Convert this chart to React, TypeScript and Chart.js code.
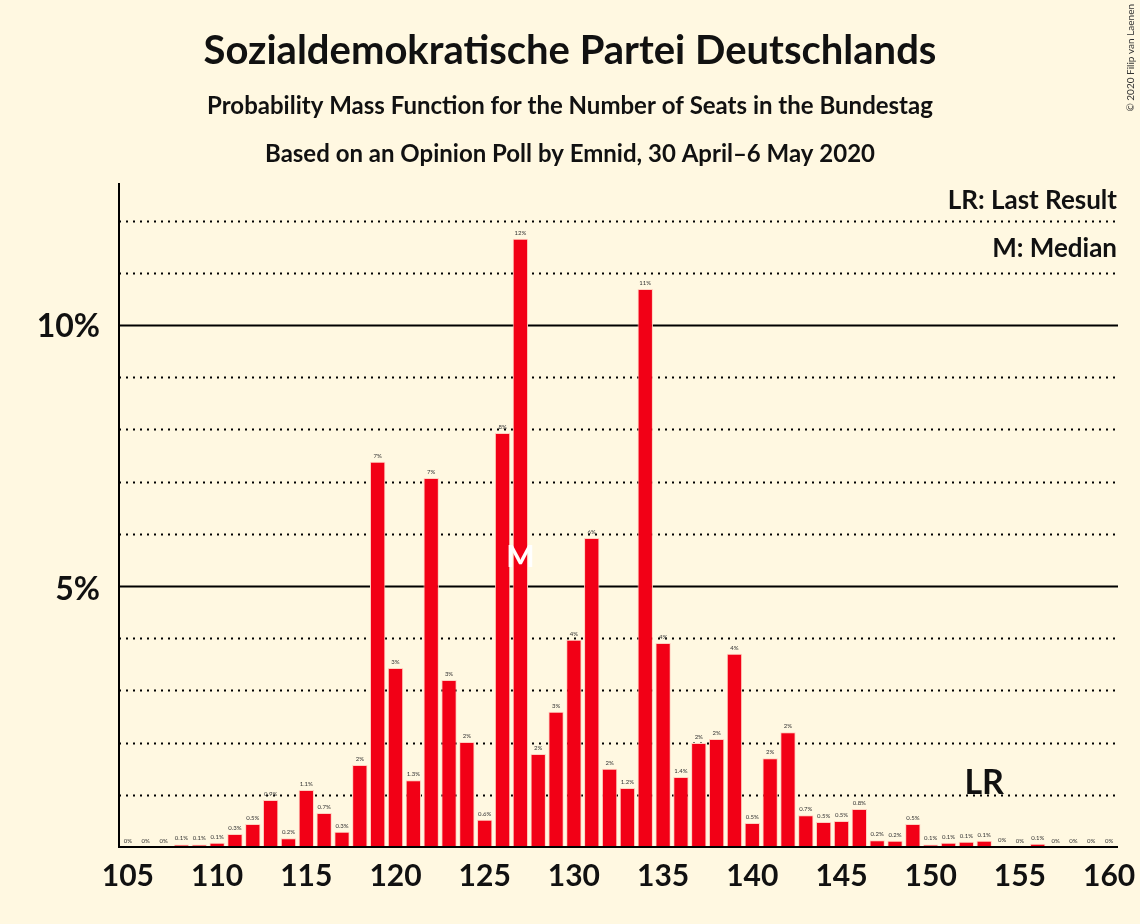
import React, { useEffect, useRef } from "react";
import { Chart, registerables } from "chart.js";
Chart.register(...registerables);

const seats = Array.from({ length: 56 }, (_, i) => 105 + i);
const probs = [
  0, 0, 0, 0.05, 0.05, 0.08, 0.25, 0.44, 0.9, 0.17, 1.09, 0.65, 0.29, 1.57, 7.38, 3.43,
  1.28, 7.07, 3.2, 2.01, 0.52, 7.93, 11.65, 1.78, 2.59, 3.97, 5.92, 1.5, 1.13, 10.69,
  3.91, 1.34, 1.99, 2.07, 3.7, 0.46, 1.7, 2.2, 0.61, 0.48, 0.5, 0.73, 0.13, 0.12, 0.44,
  0.05, 0.08, 0.1, 0.12, 0.02, 0, 0.06, 0, 0, 0, 0,
];
const valueLabels = [
  "0%", "0%", "0%", "0.1%", "0.1%", "0.1%", "0.3%", "0.5%", "0.9%", "0.2%", "1.1%", "0.7%", "0.3%", "2%", "7%", "3%",
  "1.3%", "7%", "3%", "2%", "0.6%", "8%", "12%", "2%", "3%", "4%", "6%", "2%", "1.2%", "11%",
  "4%", "1.4%", "2%", "2%", "4%", "0.5%", "2%", "2%", "0.7%", "0.5%", "0.5%", "0.8%", "0.2%", "0.2%", "0.5%",
  "0.1%", "0.1%", "0.1%", "0.1%", "0%", "0%", "0.1%", "0%", "0%", "0%", "0%",
];
const medianSeat = 127;
const lastResultSeat = 153;
const BG = "#FFF8E1";
const FONT = "Lato, 'DejaVu Sans', sans-serif";

export default function App() {
  const ref = useRef<HTMLCanvasElement>(null);
  useEffect(() => {
    document.body.style.margin = "0";
    const overlay = {
      id: "overlay",
      beforeDraw(chart: any) {
        const { ctx, chartArea: a, scales } = chart;
        ctx.save();
        ctx.fillStyle = BG;
        ctx.fillRect(0, 0, chart.width, chart.height);
        const y = scales.y;
        for (let v = 1; v <= 12; v++) {
          const py = Math.round(y.getPixelForValue(v)) + 0.5;
          ctx.beginPath();
          ctx.strokeStyle = "#000";
          if (v % 5 === 0) {
            ctx.setLineDash([]);
            ctx.lineWidth = 2;
          } else {
            ctx.setLineDash([2, 5]);
            ctx.lineWidth = 2;
          }
          ctx.moveTo(a.left, py);
          ctx.lineTo(a.right, py);
          ctx.stroke();
        }
        ctx.setLineDash([]);
        ctx.restore();
      },
      afterDraw(chart: any) {
        const { ctx, chartArea: a, scales } = chart;
        const x = scales.x, y = scales.y;
        ctx.save();
        ctx.strokeStyle = "#000";
        ctx.lineWidth = 2;
        ctx.beginPath();
        ctx.moveTo(a.left, a.top);
        ctx.lineTo(a.left, a.bottom);
        ctx.lineTo(a.right, a.bottom);
        ctx.stroke();
        ctx.fillStyle = "#111";
        ctx.textAlign = "center";
        ctx.textBaseline = "alphabetic";
        ctx.font = `bold 40px ${FONT}`;
        ctx.fillText("Sozialdemokratische Partei Deutschlands", 570, 64);
        ctx.font = `bold 24px ${FONT}`;
        ctx.fillText("Probability Mass Function for the Number of Seats in the Bundestag", 570, 114);
        ctx.fillText("Based on an Opinion Poll by Emnid, 30 April\u20136 May 2020", 570, 162);
        ctx.textAlign = "right";
        ctx.font = `bold 26px ${FONT}`;
        ctx.fillText("LR: Last Result", 1117, 209);
        ctx.fillText("M: Median", 1117, 257);
        ctx.font = `bold 32px ${FONT}`;
        ctx.fillText("10%", 100, 337);
        ctx.fillText("5%", 100, 600);
        // value labels
        ctx.textAlign = "center";
        ctx.font = `6px ${FONT}`;
        ctx.fillStyle = "#333";
        probs.forEach((p, i) => {
          ctx.fillText(valueLabels[i], x.getPixelForValue(i), y.getPixelForValue(p) - 4);
        });
        // median
        ctx.fillStyle = "#fff";
        ctx.font = `bold 30px ${FONT}`;
        const mi = seats.indexOf(medianSeat);
        ctx.fillText("M", x.getPixelForValue(mi), y.getPixelForValue(5.6) + 12);
        // LR
        ctx.fillStyle = "#111";
        ctx.font = `bold 34px ${FONT}`;
        const li = seats.indexOf(lastResultSeat);
        ctx.fillText("LR", x.getPixelForValue(li), y.getPixelForValue(1.25) + 12);
        // copyright
        ctx.save();
        ctx.translate(1134, 4);
        ctx.rotate(-Math.PI / 2);
        ctx.textAlign = "right";
        ctx.font = `10px ${FONT}`;
        ctx.fillStyle = "#333";
        ctx.fillText("\u00a9 2020 Filip van Laenen", 0, 0);
        ctx.restore();
        ctx.restore();
      },
    };
    const chart = new Chart(ref.current!, {
      type: "bar",
      data: {
        labels: seats.map(String),
        datasets: [
          {
            data: probs,
            backgroundColor: "#F20016",
            borderColor: "#FFD0C0",
            borderWidth: 1,
            barPercentage: 0.86,
            categoryPercentage: 1,
          },
        ],
      },
      options: {
        animation: false,
        responsive: false,
        devicePixelRatio: 1,
        layout: { padding: { top: 183, right: 22, left: 0, bottom: 0 } },
        plugins: { legend: { display: false }, tooltip: { enabled: false } },
        scales: {
          x: {
            grid: { display: false },
            border: { display: false },
            ticks: {
              autoSkip: false,
              maxRotation: 0,
              color: "#111",
              font: { family: FONT, size: 30, weight: "bold" },
              callback: (_v: any, i: number) => (seats[i] % 5 === 0 ? String(seats[i]) : ""),
            },
            afterFit: (s: any) => {
              s.height = 924 - 847;
            },
          },
          y: {
            min: 0,
            max: 12.72,
            grid: { display: false },
            border: { display: false },
            ticks: { display: false },
            afterFit: (s: any) => {
              s.width = 119;
            },
          },
        },
      },
      plugins: [overlay],
    });
    return () => chart.destroy();
  }, []);
  return <canvas ref={ref} width={1140} height={924} style={{ display: "block" }} />;
}
